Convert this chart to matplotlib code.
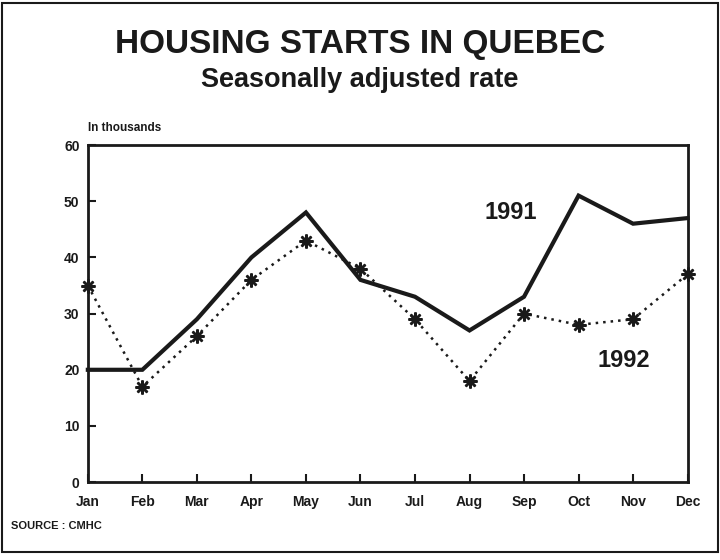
import matplotlib.pyplot as plt
from matplotlib.patches import Rectangle

plt.rcParams['font.family'] = ['Liberation Sans', 'DejaVu Sans']

months = ['Jan', 'Feb', 'Mar', 'Apr', 'May', 'Jun', 'Jul', 'Aug', 'Sep', 'Oct', 'Nov', 'Dec']
starts_1991 = [20, 20, 29, 40, 48, 36, 33, 27, 33, 51, 46, 47]
starts_1992 = [35, 17, 26, 36, 43, 38, 29, 18, 30, 28, 29, 37]
y_ticks = [0, 10, 20, 30, 40, 50, 60]

fig = plt.figure(figsize=(7.2, 5.6), dpi=100)
ax = fig.add_axes([0.122, 0.139, 0.833, 0.602])

x = range(len(months))
ax.plot(x, starts_1991, color='#1a1a1a', lw=3, solid_joinstyle='miter', clip_on=False)
ax.plot(x, starts_1992, color='#1a1a1a', lw=1.8, ls=(0, (1, 2)),
        marker=(8, 2, 0), markersize=10, markeredgewidth=1.8, clip_on=False)

ax.set_xlim(0, 11)
ax.set_ylim(0, 60)
ax.set_xticks(list(x))
ax.set_xticklabels(months)
ax.set_yticks(y_ticks)
for s in ax.spines.values():
    s.set_linewidth(2)
    s.set_color('#1a1a1a')
ax.tick_params(direction='in', length=6, width=1.5, colors='#1a1a1a')
ax.tick_params(axis='x', pad=9)
ax.tick_params(axis='y', pad=6)
for lab in ax.get_xticklabels() + ax.get_yticklabels():
    lab.set_fontweight('bold')
    lab.set_fontsize(10)

# series labels
ax.text(7.28, 48.0, '1991', fontsize=17, fontweight='bold', color='#1a1a1a',
        ha='left', va='center')
ax.text(9.35, 21.7, '1992', fontsize=17, fontweight='bold', color='#1a1a1a',
        ha='left', va='center')

fig.text(0.5, 0.92, 'HOUSING STARTS IN QUEBEC', ha='center', va='center',
         fontsize=24, fontweight='bold', color='#1a1a1a')
fig.text(0.5, 0.857, 'Seasonally adjusted rate', ha='center', va='center',
         fontsize=19.5, fontweight='bold', color='#1a1a1a')
fig.text(0.122, 0.771, 'In thousands', ha='left', va='center',
         fontsize=8.5, fontweight='bold', color='#1a1a1a')
fig.text(0.015, 0.06, 'SOURCE : CMHC', ha='left', va='center',
         fontsize=8, fontweight='bold', color='#1a1a1a')

fig.patches.append(Rectangle((0.003, 0.015), 0.994, 0.98, transform=fig.transFigure,
                             fill=False, lw=1.5, edgecolor='#1a1a1a'))

fig.savefig('out.png', dpi=100)
